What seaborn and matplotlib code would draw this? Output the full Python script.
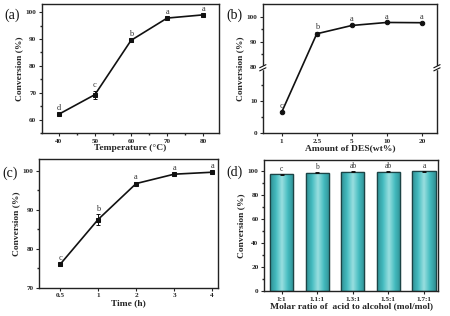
import numpy as np
import pandas as pd
import matplotlib
matplotlib.use("Agg")
import matplotlib.pyplot as plt
import seaborn as sns
from matplotlib.ticker import AutoMinorLocator, FixedLocator
from matplotlib.colors import LinearSegmentedColormap

# ---------------- data ----------------
temp = [40, 50, 60, 70, 80]
conv_temp = [62.0, 69.3, 89.5, 97.8, 99.0]
err_temp = [0.4, 1.5, 0.5, 0.4, 0.3]
lab_temp = ["d", "c", "b", "a", "a"]

des = ["1", "2.5", "5", "10", "20"]
conv_des = [6.5, 93.2, 96.5, 97.7, 97.6]
err_des = [0.3, 0.8, 0.4, 0.3, 0.3]
lab_des = ["c", "b", "a", "a", "a"]

time_h = ["0.5", "1", "2", "3", "4"]
conv_time = [76.0, 87.5, 96.7, 99.1, 99.6]
err_time = [0.3, 1.4, 0.4, 0.3, 0.2]
lab_time = ["c", "b", "a", "a", "a"]

ratio = ["1:1", "1.1:1", "1.3:1", "1.5:1", "1.7:1"]
conv_ratio = [97.0, 98.3, 99.0, 99.0, 99.5]
err_ratio = [0.6, 0.4, 0.4, 0.4, 0.3]
lab_ratio = ["c", "b", "ab", "ab", "a"]

ticks_b = [0, 10, 80, 90, 100]
tick_labels_b = ["0", "10", "80", "90", "100"]

# ---------------- style ----------------
sns.set_theme(style="ticks")
plt.rcParams["font.family"] = ["Liberation Serif", "DejaVu Serif"]
plt.rcParams["axes.linewidth"] = 1.0
plt.rcParams["xtick.major.size"] = 2.5
plt.rcParams["ytick.major.size"] = 2.5
plt.rcParams["xtick.minor.size"] = 1.5
plt.rcParams["ytick.minor.size"] = 1.5
plt.rcParams["xtick.major.width"] = 0.8
plt.rcParams["ytick.major.width"] = 0.8

fig = plt.figure(figsize=(4.5, 3.16), dpi=100)
axa = fig.add_axes([0.093, 0.579, 0.394, 0.408])
axb = fig.add_axes([0.584, 0.579, 0.387, 0.408])
axc = fig.add_axes([0.087, 0.089, 0.398, 0.408])
axd = fig.add_axes([0.587, 0.079, 0.387, 0.415])

TICKFS = 5.2
LABFS = 6.8
LETFS = 6
GRAY = "#333333"
LW = 1.2


def style(ax, xlabel):
    ax.set_xlabel(xlabel, fontsize=LABFS, fontweight="bold", labelpad=0.5)
    ax.set_ylabel("Conversion (%)", fontsize=LABFS, fontweight="bold", labelpad=1.5)
    ax.tick_params(labelsize=TICKFS, pad=1.5, direction="out")
    for lbl in ax.get_xticklabels() + ax.get_yticklabels():
        lbl.set_fontweight("bold")
    for s in ax.spines.values():
        s.set_color("#222222")


def letters(ax, xs, ys, es, labs, fs=LETFS):
    for x, y, e, t in zip(xs, ys, es, labs):
        ax.annotate(t, (x, y + e), xytext=(0, 0.8), textcoords="offset points",
                    ha="center", va="bottom", fontsize=fs, color=GRAY)


# ---------------- (a) ----------------
dfa = pd.DataFrame({"T": temp, "C": conv_temp})
sns.lineplot(data=dfa, x="T", y="C", ax=axa, color="#111111", lw=LW,
             marker="s", markersize=3.2, markeredgecolor="#111111")
axa.errorbar(temp, conv_temp, yerr=err_temp, fmt="none", ecolor="#111111",
             elinewidth=0.7, capsize=1.2, capthick=0.7)
letters(axa, temp, conv_temp, err_temp, lab_temp)
axa.set_xlim(35.3, 84.4)
axa.set_ylim(55, 103)
axa.set_xticks(temp)
axa.set_yticks([60, 70, 80, 90, 100])
axa.yaxis.set_minor_locator(AutoMinorLocator(2))
axa.xaxis.set_minor_locator(AutoMinorLocator(2))
style(axa, "Temperature (\u00b0C)")

# ---------------- (b) broken axis ----------------
src = np.array([0.0, 20.0, 80.0, 200.0])
dst = np.array([0.0, 20.0, 20.5, 20.5 + 120.0 * 0.78])


def fwd(y):
    return np.interp(y, src, dst)


def inv(y):
    return np.interp(y, dst, src)


dfb = pd.DataFrame({"D": des, "C": conv_des})
sns.lineplot(data=dfb, x="D", y="C", ax=axb, color="#111111", lw=LW,
             marker="o", markersize=3.2, markeredgecolor="#111111", sort=False)
axb.errorbar(range(len(des)), conv_des, yerr=err_des, fmt="none", ecolor="#111111",
             elinewidth=0.7, capsize=1.2, capthick=0.7)
letters(axb, range(len(des)), conv_des, err_des, lab_des)
axb.set_yscale("function", functions=(fwd, inv))
axb.set_xlim(-0.54, 4.43)
axb.set_ylim(0, 105)
axb.set_yticks(ticks_b, labels=tick_labels_b)
axb.yaxis.set_minor_locator(FixedLocator([5, 15, 85, 95]))
style(axb, "Amount of DES(wt%)")
# break marks on both spines
yb = (fwd(50.0) - fwd(0.0)) / (fwd(105.0) - fwd(0.0))
for xs in (0.0, 1.0):
    axb.add_patch(plt.Rectangle((xs - 0.015, yb - 0.012), 0.03, 0.024,
                                transform=axb.transAxes, color="white",
                                clip_on=False, zorder=5))
    for dy in (-0.012, 0.012):
        axb.plot([xs - 0.018, xs + 0.018], [yb + dy - 0.012, yb + dy + 0.012],
                 transform=axb.transAxes, color="#111111", lw=0.8,
                 clip_on=False, zorder=6)

# ---------------- (c) ----------------
dfc = pd.DataFrame({"t": time_h, "C": conv_time})
sns.lineplot(data=dfc, x="t", y="C", ax=axc, color="#111111", lw=LW,
             marker="s", markersize=3.2, markeredgecolor="#111111", sort=False)
axc.errorbar(range(len(time_h)), conv_time, yerr=err_time, fmt="none",
             ecolor="#111111", elinewidth=0.7, capsize=1.2, capthick=0.7)
letters(axc, range(len(time_h)), conv_time, err_time, lab_time)
axc.set_xlim(-0.55, 4.16)
axc.set_ylim(70, 103)
axc.set_yticks([70, 80, 90, 100])
axc.yaxis.set_minor_locator(AutoMinorLocator(2))
style(axc, "Time (h)")

# ---------------- (d) ----------------
dfd = pd.DataFrame({"R": ratio, "C": conv_ratio})
sns.barplot(data=dfd, x="R", y="C", ax=axd, color="#45bcc0", width=0.65,
            edgecolor="#1c4446", linewidth=0.9, saturation=1)
# cylinder-like shading inside each bar
grad_cmap = LinearSegmentedColormap.from_list(
    "tealgrad", ["#2f8f93", "#45bcc0", "#9adfe0", "#45bcc0", "#2f8f93"])
grad = np.linspace(0, 1, 64).reshape(1, -1)
for p in list(axd.patches):
    x0, y0 = p.get_x(), p.get_y()
    w, h = p.get_width(), p.get_height()
    im = axd.imshow(grad, cmap=grad_cmap, extent=(x0, x0 + w, y0, y0 + h),
                    aspect="auto", zorder=p.get_zorder() + 0.1, interpolation="bilinear")
    im.set_clip_path(p)
    axd.add_patch(plt.Rectangle((x0, y0), w, h, fill=False, edgecolor="#1c4446",
                                linewidth=0.9, zorder=p.get_zorder() + 0.2))
axd.errorbar(range(len(ratio)), conv_ratio, yerr=err_ratio, fmt="none",
             ecolor="#111111", elinewidth=0.7, capsize=1.2, capthick=0.7, zorder=5)
letters(axd, range(len(ratio)), conv_ratio, err_ratio, lab_ratio, fs=LETFS - 0.5)
axd.set_xlim(-0.49, 4.4)
axd.set_ylim(0, 109)
axd.set_yticks([0, 20, 40, 60, 80, 100])
axd.yaxis.set_minor_locator(AutoMinorLocator(2))
style(axd, "Molar ratio of  acid to alcohol (mol/mol)")

# panel labels
for x, y, t in [(0.01, 0.953, "(a)"), (0.502, 0.953, "(b)"),
                (0.006, 0.453, "(c)"), (0.502, 0.456, "(d)")]:
    fig.text(x, y, t, fontsize=10, va="center", ha="left", color="#111111")

fig.savefig("out.png", dpi=100)
